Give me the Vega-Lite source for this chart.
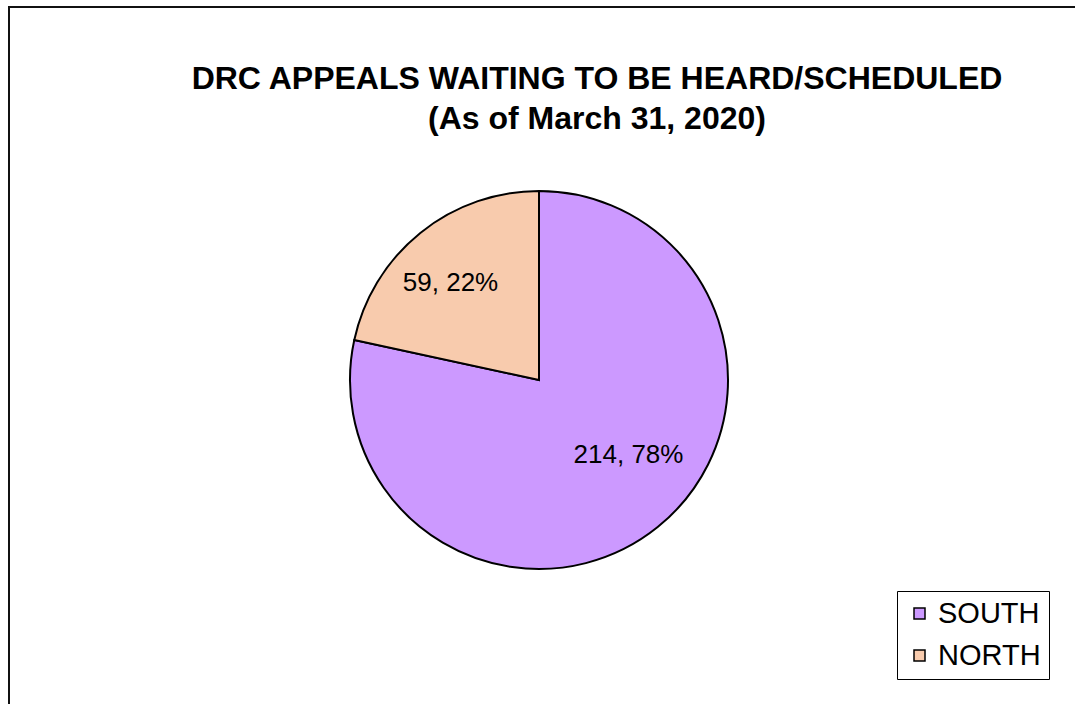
{
  "$schema": "https://vega.github.io/schema/vega-lite/v6.json",
  "autosize": "none",
  "padding": {"left": 9, "top": 7, "right": 0, "bottom": 0},
  "width": 1300,
  "height": 746,
  "background": "white",
  "view": {"stroke": "#111111", "strokeWidth": 2, "fill": "white"},
  "title": {
    "text": ["DRC APPEALS WAITING TO BE HEARD/SCHEDULED", "(As of March 31, 2020)"],
    "font": "Liberation Sans",
    "fontSize": 32,
    "fontWeight": "bold",
    "color": "#000000",
    "anchor": "middle",
    "baseline": "alphabetic",
    "lineHeight": 40,
    "offset": -154,
    "dx": -62
  },
  "data": {
    "values": [
      {"region": "SOUTH", "count": 214, "label": "214, 78%", "rank": 1},
      {"region": "NORTH", "count": 59, "label": "59, 22%", "rank": 2}
    ]
  },
  "encoding": {
    "theta": {"field": "count", "type": "quantitative", "stack": true},
    "order": {"field": "rank", "type": "quantitative"}
  },
  "layer": [
    {
      "mark": {"type": "arc", "radius": 189, "stroke": "#000000", "strokeWidth": 2, "xOffset": -120},
      "encoding": {
        "color": {
          "field": "region",
          "type": "nominal",
          "scale": {"domain": ["SOUTH", "NORTH"], "range": ["#CC99FF", "#F8CBAD"]},
          "legend": {
            "title": null,
            "orient": "none",
            "legendX": 888,
            "legendY": 584,
            "direction": "vertical",
            "symbolType": "square",
            "symbolSize": 121,
            "symbolStrokeColor": "#000000",
            "symbolStrokeWidth": 1.5,
            "labelFont": "Liberation Sans",
            "labelFontSize": 29,
            "labelColor": "#000000",
            "labelOffset": 4,
            "rowPadding": 12,
            "padding": 8,
            "strokeColor": "#000000",
            "fillColor": "#FFFFFF"
          }
        }
      }
    },
    {
      "mark": {"type": "text", "radius": 125, "font": "Liberation Sans", "fontSize": 26, "color": "#000000", "xOffset": -120, "dx": 11, "dy": -22},
      "encoding": {"text": {"condition": {"test": "datum.region == 'SOUTH'", "field": "label"}, "value": ""}}
    },
    {
      "mark": {"type": "text", "radius": 125, "font": "Liberation Sans", "fontSize": 26, "color": "#000000", "xOffset": -120, "dx": -10, "dy": 0},
      "encoding": {"text": {"condition": {"test": "datum.region == 'NORTH'", "field": "label"}, "value": ""}}
    }
  ]
}
